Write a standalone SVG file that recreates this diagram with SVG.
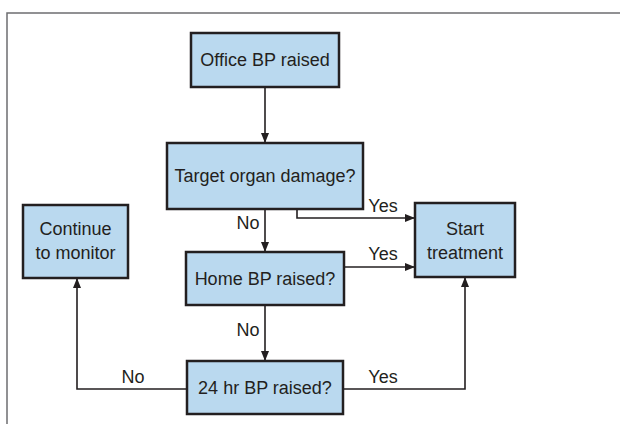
<svg xmlns="http://www.w3.org/2000/svg" width="620" height="424" viewBox="0 0 620 424">
  <style>
    .box { fill: #bad9ef; stroke: #231f20; stroke-width: 2.5; }
    .lbl { font-family: "Liberation Sans", Arial, sans-serif; font-size: 18px; fill: #231f20; text-anchor: middle; }
    .edge { fill: none; stroke: #231f20; stroke-width: 1.6; }
    .frame { fill: none; stroke: #6d6e70; stroke-width: 1.5; }
  </style>
  <defs>
    <marker id="arrow" viewBox="0 0 10 10" refX="10" refY="5" markerWidth="10" markerHeight="10" markerUnits="userSpaceOnUse" orient="auto">
      <path d="M0,1 L10,5 L0,9 Z" fill="#231f20"/>
    </marker>
  </defs>
  <rect width="620" height="424" fill="#ffffff"/>
  <rect class="frame" x="7" y="13" width="640" height="440"/>

  <g id="connectors">
    <path class="edge" d="M265,87 V143" marker-end="url(#arrow)"/>
    <path class="edge" d="M265,209 V252" marker-end="url(#arrow)"/>
    <path class="edge" d="M297,209 V218 H415" marker-end="url(#arrow)"/>
    <path class="edge" d="M344,267 H415" marker-end="url(#arrow)"/>
    <path class="edge" d="M265,305 V361" marker-end="url(#arrow)"/>
    <path class="edge" d="M187,389 H77 V278" marker-end="url(#arrow)"/>
    <path class="edge" d="M343,389 H465 V277" marker-end="url(#arrow)"/>
    <text class="lbl" x="248" y="229">No</text>
    <text class="lbl" x="383" y="212">Yes</text>
    <text class="lbl" x="383" y="260">Yes</text>
    <text class="lbl" x="248" y="336">No</text>
    <text class="lbl" x="133" y="383">No</text>
    <text class="lbl" x="383" y="383">Yes</text>
  </g>

  <g id="office">
    <rect class="box" x="191" y="33" width="148" height="54"/>
    <text class="lbl" x="265" y="66">Office BP raised</text>
  </g>
  <g id="target">
    <rect class="box" x="167" y="143" width="196" height="66"/>
    <text class="lbl" x="265" y="182">Target organ damage?</text>
  </g>
  <g id="continue">
    <rect class="box" x="23" y="205" width="105" height="73"/>
    <text class="lbl" x="75.5" y="235">Continue</text>
    <text class="lbl" x="75.5" y="259">to monitor</text>
  </g>
  <g id="start">
    <rect class="box" x="415" y="203" width="100" height="74"/>
    <text class="lbl" x="465" y="235">Start</text>
    <text class="lbl" x="465" y="259">treatment</text>
  </g>
  <g id="home">
    <rect class="box" x="186" y="252" width="158" height="53"/>
    <text class="lbl" x="265" y="285">Home BP raised?</text>
  </g>
  <g id="ambulatory">
    <rect class="box" x="187" y="361" width="156" height="53"/>
    <text class="lbl" x="265" y="394">24 hr BP raised?</text>
  </g>
</svg>
